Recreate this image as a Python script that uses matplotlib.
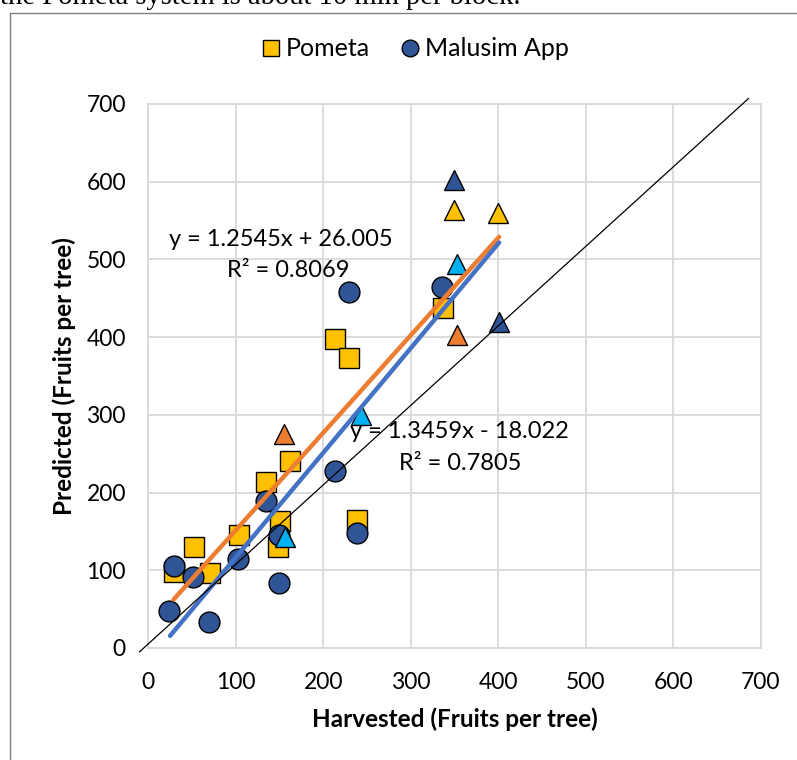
import matplotlib.pyplot as plt
from matplotlib.lines import Line2D
import numpy as np

plt.rcParams['font.family'] = ['Lato', 'DejaVu Sans']

# Pometa (squares)
pometa_x = [29, 52, 71, 104, 135, 162, 151, 148, 213, 230, 337, 239]
pometa_y = [98, 130, 97, 145, 214, 241, 163, 130, 398, 373, 437, 165]

# Malusim App (circles)
malusim_x = [24, 70, 29, 51, 103, 135, 149, 149, 336, 229, 213, 239]
malusim_y = [47, 33, 105, 91, 115, 189, 145, 83, 465, 458, 228, 148]

# extra points shown as triangles
tri_cyan_x = [156, 243, 353]
tri_cyan_y = [143, 300, 494]
tri_orange_x = [155, 353]
tri_orange_y = [276, 403]
tri_yellow_x = [349, 400]
tri_yellow_y = [564, 560]
tri_navy_x = [350, 401]
tri_navy_y = [602, 420]

# trendlines: slope, intercept, x range
pometa_fit = (1.2545, 26.005, 29, 401)
malusim_fit = (1.3459, -18.022, 25, 401)

# reference line
ref_x = [-10, 686]
ref_y = [-5, 707]

YELLOW = '#FFC000'
NAVY = '#2F5597'
ORANGE = '#ED7D31'
BLUE = '#4472C4'
CYAN = '#00B0F0'

fig = plt.figure(figsize=(7.97, 7.60), dpi=100)
ax = fig.add_axes([148.2 / 797, 1 - 648 / 760, (760.7 - 148.2) / 797, (648 - 104) / 760])

ax.plot(pometa_x, pometa_y, 's', ms=15, mfc=YELLOW, mec='black', mew=1, zorder=3)
ax.plot(malusim_x, malusim_y, 'o', ms=15, mfc=NAVY, mec='black', mew=1, zorder=4)
for tx, ty, c in [(tri_cyan_x, tri_cyan_y, CYAN), (tri_orange_x, tri_orange_y, ORANGE),
                  (tri_yellow_x, tri_yellow_y, YELLOW), (tri_navy_x, tri_navy_y, NAVY)]:
    ax.plot(tx, ty, '^', ms=15, mfc=c, mec='black', mew=1, zorder=5)

for (m, b, x0, x1), col in [(pometa_fit, ORANGE), (malusim_fit, BLUE)]:
    xs = np.array([x0, x1])
    ax.plot(xs, m * xs + b, color=col, lw=3.2, solid_capstyle='round', zorder=6)

ax.plot(ref_x, ref_y, color='black', lw=0.9, clip_on=False, zorder=7)

eq_size = 17
ax.text(151, 526, 'y = 1.2545x + 26.005', fontsize=eq_size, ha='center', va='center', zorder=8)
ax.text(160, 486, 'R² = 0.8069', fontsize=eq_size, ha='center', va='center', zorder=8)
ax.text(356, 278, 'y = 1.3459x - 18.022', fontsize=eq_size, ha='center', va='center', zorder=8)
ax.text(357, 238, 'R² = 0.7805', fontsize=eq_size, ha='center', va='center', zorder=8)

ax.set_xlim(0, 700)
ax.set_ylim(0, 700)
ax.set_xticks(range(0, 701, 100))
ax.set_yticks(range(0, 701, 100))
ax.grid(True, color='#D9D9D9', lw=1.3, zorder=0)
ax.set_axisbelow(True)
for s in ax.spines.values():
    s.set_color('#D9D9D9')
    s.set_linewidth(1.3)
ax.tick_params(length=0, labelsize=16.5)
ax.tick_params(axis='y', pad=16)
ax.tick_params(axis='x', pad=17)

ax.set_xlabel('Harvested (Fruits per tree)', fontsize=17.5, fontweight='bold')
ax.set_ylabel('Predicted (Fruits per tree)', fontsize=17.5, fontweight='bold')
ax.xaxis.set_label_coords((455 - 148.2) / (760.7 - 148.2), -(707 - 648) / 544)
ax.yaxis.set_label_coords(-(148.2 - 76) / (760.7 - 148.2), (648 - 376) / 544)

handles = [Line2D([], [], ls='', marker='s', ms=12, mfc=YELLOW, mec='black', mew=1),
           Line2D([], [], ls='', marker='o', ms=12, mfc=NAVY, mec='black', mew=1)]
fig.legend(handles, ['Pometa', 'Malusim App'], loc='center', bbox_to_anchor=(414 / 797, 1 - 49 / 760),
           ncol=2, frameon=False, fontsize=18, handletextpad=0.1, columnspacing=1.1, handlelength=1)

# chart border and cropped document text
fig.add_artist(Line2D([10 / 797, 1], [1 - 13 / 760, 1 - 13 / 760], color='#808080', lw=1))
fig.add_artist(Line2D([10 / 797, 10 / 797], [0, 1 - 13 / 760], color='#808080', lw=1))
fig.text(0, 1 - 4 / 760, 'the Pometa system is about 10 min per block.', family='Liberation Serif',
         fontsize=20.6, ha='left', va='baseline')

fig.savefig('out.png', dpi=100)
